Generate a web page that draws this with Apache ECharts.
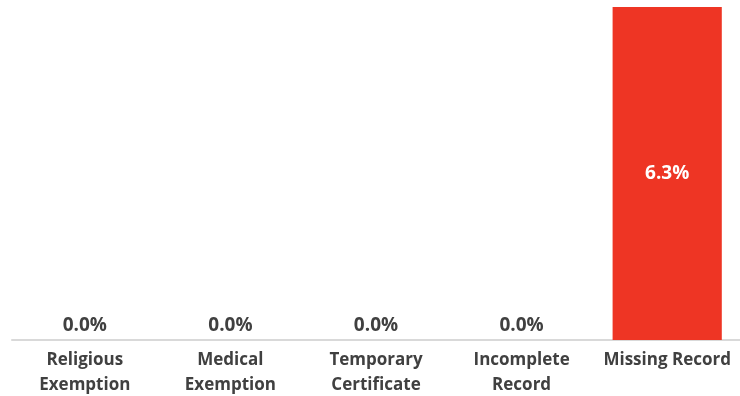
<!DOCTYPE html>
<html><head><meta charset="utf-8">
<script src="https://cdn.jsdelivr.net/npm/echarts@6/dist/echarts.min.js"></script>
<style>html,body{margin:0;padding:0;background:#fff}#c{width:740px;height:396px}</style>
</head><body><div id="c"></div>
<script>
const categories = ['Religious\nExemption', 'Medical\nExemption', 'Temporary\nCertificate', 'Incomplete\nRecord', 'Missing Record'];
const values = [0.0, 0.0, 0.0, 0.0, 6.3];
const chart = echarts.init(document.getElementById('c'));
const font = '"Open Sans", sans-serif';
const data = values.map(v => v > 0 ? {value: v, label: {position: 'inside', color: '#ffffff'}} : v);
chart.setOption({
  animation: false,
  grid: {left: 12, right: 0, top: 7, bottom: 56, containLabel: false, outerBoundsMode: 'none'},
  xAxis: {
    type: 'category', data: categories,
    axisLine: {lineStyle: {color: '#d9d9d9', width: 2}},
    axisTick: {show: false},
    axisLabel: {color: '#404040', fontFamily: font, fontWeight: 'bold', fontSize: 17, lineHeight: 25, margin: 8, interval: 0}
  },
  yAxis: {type: 'value', min: 0, max: 6.3, show: false, splitLine: {show: false}},
  series: [{
    type: 'bar', data: data, barWidth: '75%',
    itemStyle: {color: '#EE3524'},
    label: {
      show: true, fontFamily: font, fontWeight: 'bold', fontSize: 19,
      formatter: p => p.value.toFixed(1) + '%',
      position: 'top', distance: 5, color: '#404040'
    }
  }]
});
</script></body></html>
